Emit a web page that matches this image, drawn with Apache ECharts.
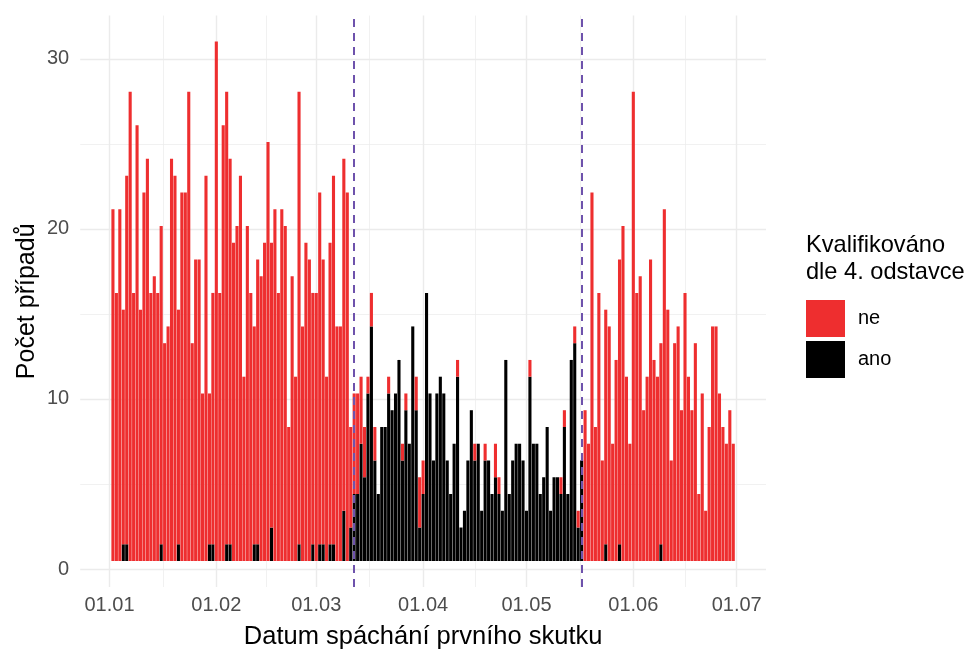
<!DOCTYPE html>
<html>
<head>
<meta charset="utf-8">
<script src="https://cdn.jsdelivr.net/npm/echarts@6.0.0/dist/echarts.min.js"></script>
<style>html,body{margin:0;padding:0;background:#fff}#c{width:978px;height:655px}</style>
</head>
<body>
<div id="c"></div>
<script>
// ---- data ----
const firstDay = '2020-01-02';   // first bar
const ano = [
 0,0,0,1,1,0,0,0,0,0,
 0,0,0,0,1,0,0,0,0,1,
 0,0,0,0,0,0,0,0,1,1,
 0,0,0,1,1,0,0,0,0,0,
 0,1,1,0,0,0,2,0,0,0,
 0,0,0,0,1,0,0,0,1,0,
 1,1,0,1,1,0,0,3,0,2,
 4,4,7,5,10,14,6,4,8,8,
 10,9,10,12,6,9,7,14,9,2,
 4,16,10,6,10,11,10,6,4,7,
 11,2,3,6,9,6,7,3,6,6,
 4,5,4,3,12,4,6,7,7,6,
 3,11,7,7,4,5,8,3,5,5,
 4,8,4,12,13,2,6,0,0,0,
 0,0,0,1,0,0,0,1,0,0,
 0,0,0,0,0,0,0,0,0,1,
 0,0,0,0,0,0,0,0,0,0,
 0,0,0,0,0,0,0,0,0,0,
 0
];
const ne = [
 21,16,21,14,22,28,16,26,15,22,
 24,16,17,16,19,13,14,24,23,14,
 22,22,28,13,18,18,10,23,9,15,
 31,16,26,27,23,19,20,23,11,20,
 16,13,17,17,19,25,17,21,16,21,
 20,8,17,11,27,14,19,18,15,16,
 21,17,11,18,22,14,14,21,22,6,
 6,6,4,3,1,2,2,0,0,0,
 1,0,0,0,1,1,0,0,2,3,
 2,0,0,0,0,0,0,0,0,0,
 1,0,0,0,0,1,0,0,1,0,
 0,2,1,0,0,0,0,0,0,0,
 0,1,0,0,0,0,0,0,0,0,
 1,1,0,0,1,1,0,9,7,22,
 8,16,6,14,14,7,12,17,20,11,
 7,28,16,17,9,11,18,12,11,12,
 21,15,6,13,14,9,16,11,9,13,
 4,10,3,8,14,14,10,8,7,9,
 7
];
const tickDates = ['2020-01-01','2020-02-01','2020-03-01','2020-04-01','2020-05-01','2020-06-01','2020-07-01'];
const tickLabels = ['01.01','01.02','01.03','01.04','01.05','01.06','01.07'];
const vlineDates = ['2020-03-12','2020-05-17'];
const axisStart = '2019-12-24';
const axisEnd = '2020-07-09';
const seriesNames = ['ne','ano'];
const legendTitle = 'Kvalifikováno\ndle 4. odstavce';

// ---- build ----
const FONT = '"Liberation Sans", Arial, Helvetica, sans-serif';
const RED = '#EE2E2F';
const PURPLE = '#6E52AC';
const DAY = 86400000;
const parse = s => Date.UTC(+s.slice(0,4), +s.slice(5,7)-1, +s.slice(8,10));
const fmt = ms => new Date(ms).toISOString().slice(0,10);
const t0 = parse(axisStart), t1 = parse(axisEnd);
const nDays = Math.round((t1 - t0) / DAY) + 1;
const barCats = [];
for (let i = 0; i < nDays; i++) barCats.push(fmt(t0 + i * DAY));
const offset = Math.round((parse(firstDay) - t0) / DAY);
const pick = arr => barCats.map((c, i) => { const k = i - offset; return (k >= 0 && k < arr.length) ? arr[k] : null; });
const anoData = pick(ano), neData = pick(ne);

const nHalf = 2 * nDays + 1;
const halfCats = Array.from({length: nHalf}, (_, j) => String(j));
const halfIndex = s => Math.round((parse(s) - (t0 - DAY / 2)) / (DAY / 2));
const majorIdx = tickDates.map(halfIndex);
const labelAt = {};
majorIdx.forEach((j, i) => { labelAt[j] = tickLabels[i]; });
const minorSet = new Set();
for (let i = 0; i < majorIdx.length - 1; i++) minorSet.add((majorIdx[i] + majorIdx[i + 1]) / 2);

const L = 80.2, R = 212;
const chart = echarts.init(document.getElementById('c'), null, {renderer: 'canvas'});
chart.setOption({
  animation: false,
  backgroundColor: '#fff',
  textStyle: {fontFamily: FONT},
  title: {
    text: legendTitle, left: 806, top: 231.5, padding: 0,
    textStyle: {fontSize: 23.6, fontWeight: 'normal', color: '#000', lineHeight: 27, fontFamily: FONT}
  },
  legend: {
    data: seriesNames, orient: 'vertical', left: 806, top: 300, padding: 0,
    itemWidth: 39, itemHeight: 37, itemGap: 4, icon: 'rect',
    textStyle: {fontSize: 20, color: '#000', fontFamily: FONT, padding: [0, 0, 0, 8]}
  },
  grid: [
    {left: L, right: R, top: 15.6, bottom: 59.6},
    {left: L, right: R, top: 58.9, bottom: 86}
  ],
  xAxis: [
    {type: 'category', gridIndex: 0, position: 'bottom', data: barCats, boundaryGap: true,
     axisLine: {show: false}, axisTick: {show: false}, axisLabel: {show: false}, splitLine: {show: false},
     name: 'Datum spáchání prvního skutku', nameLocation: 'middle', nameGap: 37,
     nameTextStyle: {fontSize: 25.5, color: '#000', fontFamily: FONT}},
    {type: 'category', gridIndex: 0, position: 'bottom', data: halfCats, boundaryGap: false,
     axisLine: {show: false}, axisTick: {show: false},
     axisLabel: {interval: (i) => labelAt[i] !== undefined, formatter: (v, i) => labelAt[i] || '',
                 fontSize: 20, color: '#4D4D4D', margin: 8, fontFamily: FONT},
     splitLine: {show: true, interval: (i) => labelAt[i] !== undefined, lineStyle: {color: '#EBEBEB', width: 1.4}}},
    {type: 'category', gridIndex: 0, position: 'bottom', data: halfCats, boundaryGap: false,
     axisLine: {show: false}, axisTick: {show: false}, axisLabel: {show: false},
     splitLine: {show: true, interval: (i) => minorSet.has(i), lineStyle: {color: '#EBEBEB', width: 0.7}}},
    {type: 'value', gridIndex: 1, position: 'bottom', show: false, min: 0, max: 1}
  ],
  yAxis: [
    {type: 'value', gridIndex: 0, position: 'left', min: -1.55, max: 32.55,
     axisLine: {show: false}, axisTick: {show: false}, axisLabel: {show: false}, splitLine: {show: false},
     name: 'Počet případů', nameLocation: 'middle', nameGap: 41, nameRotate: 90,
     nameTextStyle: {fontSize: 25, color: '#000', fontFamily: FONT}},
    {type: 'value', gridIndex: 1, position: 'left', min: 0, max: 30, interval: 10,
     axisLine: {show: false}, axisTick: {show: false},
     axisLabel: {fontSize: 20, color: '#4D4D4D', margin: 11, fontFamily: FONT},
     splitLine: {show: true, lineStyle: {color: '#EBEBEB', width: 1.4}},
     minorTick: {show: false, splitNumber: 2},
     minorSplitLine: {show: true, lineStyle: {color: '#EBEBEB', width: 0.7}}}
  ],
  series: [
    {name: 'ano', type: 'bar', stack: 'total', xAxisIndex: 0, yAxisIndex: 0, data: anoData,
     barWidth: '90%', itemStyle: {color: '#000'}},
    {name: 'ne', type: 'bar', stack: 'total', xAxisIndex: 0, yAxisIndex: 0, data: neData,
     barWidth: '90%', itemStyle: {color: RED},
     markLine: {silent: true, symbol: ['none', 'none'], label: {show: false},
                lineStyle: {color: PURPLE, width: 2, type: [8, 6]},
                data: vlineDates.map(d => ({xAxis: d}))}}
  ]
});
</script>
</body>
</html>
